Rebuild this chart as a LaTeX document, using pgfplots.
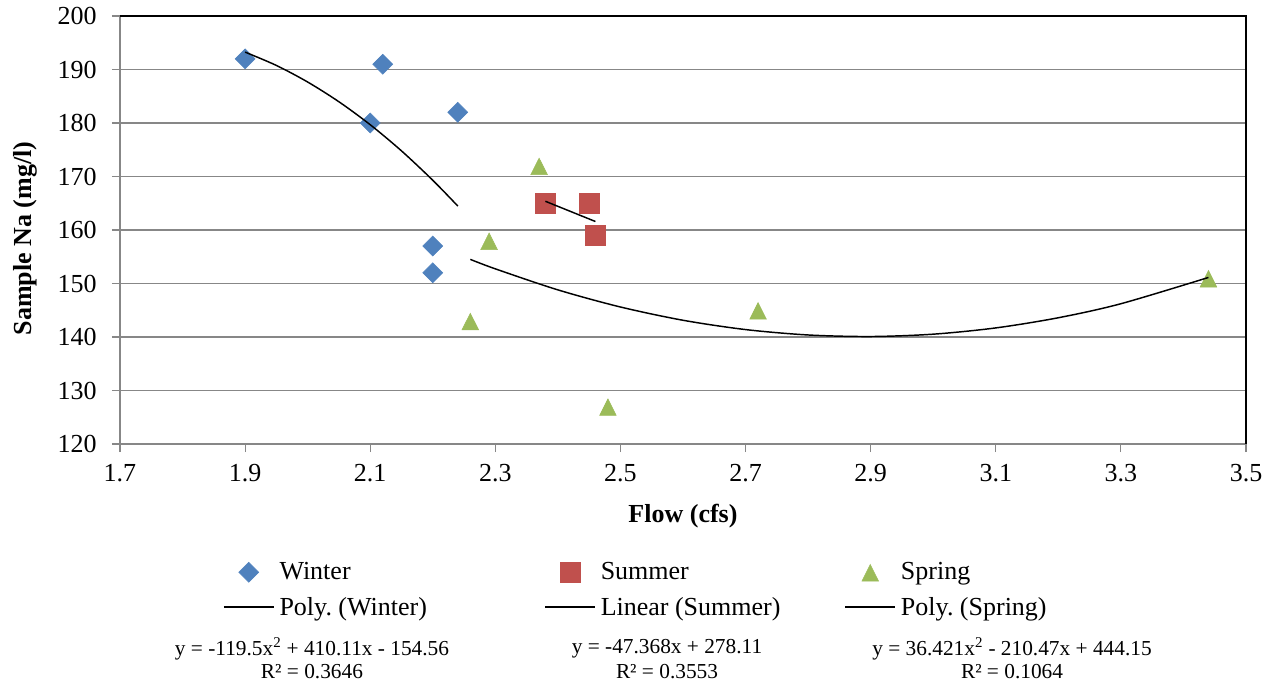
\documentclass[border=0pt]{standalone}
\usepackage{pgfplots}
\pgfplotsset{compat=1.18}
\usepackage{fontspec}
\setmainfont{Liberation Serif}
\frenchspacing
\definecolor{cwin}{HTML}{4F81BD}
\definecolor{csum}{HTML}{C0504D}
\definecolor{cspr}{HTML}{9BBB59}
\definecolor{cgrid}{HTML}{878787}
\begin{document}
\frenchspacing
\begin{tikzpicture}
\useasboundingbox (-90pt,-182.25pt) rectangle (866.25pt,333pt);
\begin{axis}[
  at={(0pt,0pt)}, anchor=south west,
  scale only axis, width=844.5pt, height=321pt,
  clip mode=individual,
  xmin=1.7, xmax=3.5, ymin=120, ymax=200,
  xtick={1.7,1.9,2.1,2.3,2.5,2.7,2.9,3.1,3.3,3.5},
  ytick={120,130,140,150,160,170,180,190,200},
  xticklabel style={/pgf/number format/.cd, fixed, fixed zerofill, precision=1, /tikz/.cd, yshift=-6pt},
  yticklabel style={/pgf/number format/.cd, fixed, precision=0, /tikz/.cd, xshift=-8pt},
  /pgf/number format/assume math mode=true,
  tick label style={font=\fontsize{19.5}{22}\selectfont, black},
  axis line style={draw=none},
  ymajorgrids, grid style={cgrid, line width=1pt},
  tick style={cgrid, line width=0.8pt},
  major tick length=6pt, tick align=outside,
  xtick pos=bottom, ytick pos=left,
  xlabel={\textbf{Flow (cfs)}},
  ylabel={\textbf{Sample Na (mg/l)}},
  label style={font=\fontsize{19.5}{22}\selectfont},
  xlabel style={at={(axis description cs:0.5,-0.168)}, anchor=center},
  ylabel style={at={(axis description cs:-0.0844,0.48)}, anchor=center},
  legend columns=3,
  legend cell align=left,
  legend style={draw=none, inner sep=0pt, outer sep=0pt,
    at={(axis description cs:0.0915,-0.276)}, anchor=north west,
    font=\fontsize{19.5}{22}\selectfont,
    nodes={inner sep=0pt},
    row sep=11pt,
    /tikz/every odd column/.append style={column sep=3.75pt},
    /tikz/column 2/.style={column sep=88pt},
    /tikz/column 4/.style={column sep=48pt}},
  legend image code/.code={\draw[mark repeat=2,mark phase=2,#1] plot coordinates {(0pt,0pt) (18.75pt,0pt) (37.5pt,0pt)};},
]
% Winter
\addplot[only marks, mark=square*, mark size=5.3pt, mark options={rotate=45, fill=cwin, draw=cwin}] coordinates {
(1.90,192) (2.12,191) (2.10,180) (2.24,182) (2.20,157) (2.20,152)};
\addlegendentry{Winter}
% Summer
\addplot[only marks, mark=square*, mark size=7.6pt, mark options={fill=csum, draw=csum}] coordinates {
(2.38,165) (2.45,165) (2.46,159)};
\addlegendentry{Summer}
% Spring
\addplot[only marks, mark=triangle*, mark size=7.2pt, mark options={yshift=-2.5pt, yscale=1.15, fill=cspr, draw=cspr}] coordinates {
(2.37,172) (2.29,158) (2.26,143) (2.48,127) (2.72,145) (3.44,151)};
\addlegendentry{Spring}
% Trendlines
\addplot[black, line width=1.1pt, smooth, no marks] coordinates {
(1.90,193.25) (1.95,190.76) (2.00,187.66) (2.05,183.97) (2.10,179.68) (2.15,174.79) (2.20,169.30) (2.24,164.48)};
\addlegendentry{Poly.\ (Winter)}
\addplot[black, line width=1.1pt, no marks] coordinates {(2.38,165.37) (2.46,161.59)};
\addlegendentry{Linear (Summer)}
\addplot[black, line width=1.1pt, smooth, no marks] coordinates {
(2.26,154.51) (2.30,152.74) (2.40,148.81) (2.50,145.61) (2.60,143.13) (2.70,141.39) (2.80,140.38) (2.90,140.09) (3.00,140.53) (3.10,141.70) (3.20,143.60) (3.30,146.22) (3.44,151.13)};
\addlegendentry{Poly.\ (Spring)}
% frame
\draw[cgrid, line width=1pt] (rel axis cs:0,1) -- (rel axis cs:0,0) -- (rel axis cs:1,0);
\draw[black, line width=1pt] (rel axis cs:0,1) -- (rel axis cs:1,1) -- (rel axis cs:1,0);
% equations
\begin{scope}[font=\fontsize{16}{19}\selectfont]
\node at (axis description cs:0.1705,-0.478) {y = -119.5x\textsuperscript{2} + 410.11x - 154.56};
\node at (axis description cs:0.1705,-0.532) {R² = 0.3646};
\node at (axis description cs:0.4858,-0.478) {y = -47.368x + 278.11};
\node at (axis description cs:0.4858,-0.532) {R² = 0.3553};
\node at (axis description cs:0.7922,-0.478) {y = 36.421x\textsuperscript{2} - 210.47x + 444.15};
\node at (axis description cs:0.7922,-0.532) {R² = 0.1064};
\end{scope}
\end{axis}
\end{tikzpicture}
\end{document}
